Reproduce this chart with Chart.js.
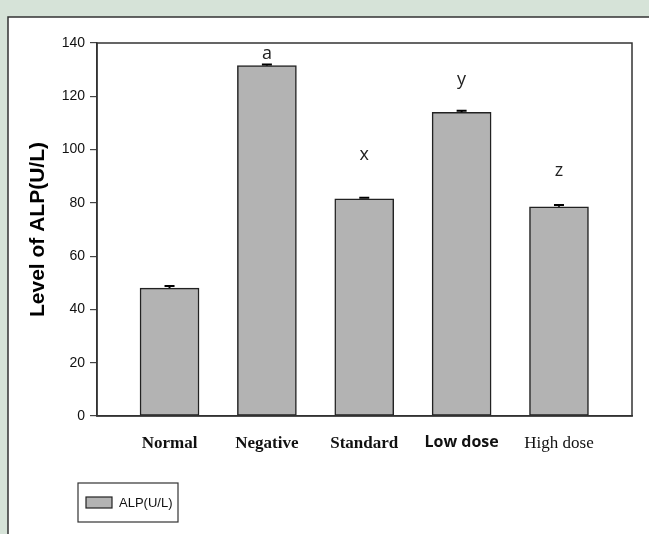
<!DOCTYPE html>
<html>
<head>
<meta charset="utf-8">
<script src="https://cdn.jsdelivr.net/npm/chart.js@4.4.1/dist/chart.umd.min.js"></script>
<style>
  html, body { margin: 0; padding: 0; background: #d6e3d8; }
  #wrap { width: 649px; height: 534px; }
</style>
</head>
<body>
<div id="wrap"><canvas id="alpChart" width="649" height="534"></canvas></div>
<script>
// data
const categories = ['Normal', 'Negative', 'Standard', 'Low dose', 'High dose'];
const alpValues = [48, 131.5, 81.5, 114, 78.5];
const alpErrors = [0.8, 0.4, 0.4, 0.6, 0.7];
const groupLetters = ['', 'a', 'x', 'y', 'z'];
const letterLevels = [0, 136, 98, 126, 92];
const yTicks = [0, 20, 40, 60, 80, 100, 120, 140];

// per-label fonts (the original mixes serif and sans)
const labelFonts = [
  { family: 'Liberation Serif', size: 17, weight: 'bold' },
  { family: 'Liberation Serif', size: 17, weight: 'bold' },
  { family: 'Liberation Serif', size: 17, weight: 'bold' },
  { family: 'Open Sans', size: 16, weight: 'bold' },
  { family: 'Liberation Serif', size: 17, weight: 'normal' }
];

const panelPlugin = {
  id: 'panel',
  beforeDraw(chart) {
    const ctx = chart.ctx;
    ctx.save();
    ctx.fillStyle = '#d6e3d8';
    ctx.fillRect(0, 0, chart.width, chart.height);
    ctx.fillStyle = '#ffffff';
    ctx.fillRect(8, 17, chart.width, chart.height);
    ctx.strokeStyle = '#333';
    ctx.lineWidth = 1.5;
    ctx.strokeRect(8, 17, chart.width + 10, chart.height + 10);
    ctx.restore();
  }
};

const extrasPlugin = {
  id: 'extras',
  afterDatasetsDraw(chart) {
    const ctx = chart.ctx;
    const y = chart.scales.y;
    const area = chart.chartArea;
    const bars = chart.getDatasetMeta(0).data;
    ctx.save();
    // plot box
    ctx.strokeStyle = '#333';
    ctx.lineWidth = 1.5;
    ctx.strokeRect(area.left, area.top, area.right - area.left, area.bottom - area.top);
    // error bars
    ctx.strokeStyle = '#000';
    ctx.lineWidth = 2;
    bars.forEach((bar, i) => {
      const top = y.getPixelForValue(alpValues[i] + alpErrors[i]);
      ctx.beginPath();
      ctx.moveTo(bar.x, bar.y);
      ctx.lineTo(bar.x, top);
      ctx.moveTo(bar.x - 5, top);
      ctx.lineTo(bar.x + 5, top);
      ctx.stroke();
    });
    // group letters
    ctx.fillStyle = '#222';
    ctx.font = '18px "Open Sans"';
    ctx.textAlign = 'center';
    ctx.textBaseline = 'middle';
    bars.forEach((bar, i) => {
      if (groupLetters[i]) ctx.fillText(groupLetters[i], bar.x, y.getPixelForValue(letterLevels[i]));
    });
    // legend box
    ctx.fillStyle = '#fff';
    ctx.strokeStyle = '#333';
    ctx.lineWidth = 1.2;
    ctx.fillRect(78, 483, 100, 39);
    ctx.strokeRect(78, 483, 100, 39);
    ctx.fillStyle = '#b3b3b3';
    ctx.fillRect(86, 497, 26, 11);
    ctx.strokeStyle = '#222';
    ctx.strokeRect(86, 497, 26, 11);
    ctx.fillStyle = '#111';
    ctx.font = '13px "Liberation Sans"';
    ctx.textAlign = 'left';
    ctx.fillText(chart.data.datasets[0].label, 119, 503);
    ctx.restore();
  }
};

new Chart(document.getElementById('alpChart'), {
  type: 'bar',
  data: {
    datasets: [{
      label: 'ALP(U/L)',
      data: alpValues.map((v, i) => ({ x: i, y: v })),
      backgroundColor: '#b3b3b3',
      borderColor: '#222',
      borderWidth: 1.5,
      borderSkipped: false,
      barThickness: 59
    }]
  },
  options: {
    responsive: false,
    animation: false,
    devicePixelRatio: 1,
    layout: { padding: { top: 43, right: 17, left: 0, bottom: 0 } },
    plugins: { legend: { display: false }, tooltip: { enabled: false } },
    scales: {
      x: {
        type: 'linear',
        offset: false,
        min: -0.745,
        max: 4.75,
        afterFit: (s) => { s.height = 118; },
        grid: { display: false, drawTicks: false },
        border: { display: true, color: '#333', width: 1.5 },
        ticks: {
          stepSize: 1,
          includeBounds: false,
          autoSkip: false,
          maxRotation: 0,
          padding: 17,
          color: '#111',
          font: (ctx) => labelFonts[ctx.index] || labelFonts[0],
          callback: (v) => (Number.isInteger(v) ? categories[v] : '')
        }
      },
      y: {
        min: 0,
        max: 140,
        afterFit: (s) => { s.width = 97; },
        afterBuildTicks: (s) => { s.ticks = yTicks.map(v => ({ value: v })); },
        grid: { drawOnChartArea: false, tickLength: 7, color: '#444', lineWidth: 1.2 },
        border: { display: true, color: '#333', width: 1.5 },
        ticks: {
          padding: 5,
          color: '#111',
          font: { family: 'Liberation Sans', size: 14 }
        },
        title: {
          display: true,
          text: 'Level of ALP(U/L)',
          color: '#000',
          font: { family: 'Liberation Sans', size: 21, weight: 'bold' },
          padding: { top: 26, bottom: 0 }
        }
      }
    }
  },
  plugins: [panelPlugin, extrasPlugin]
});
</script>
</body>
</html>
